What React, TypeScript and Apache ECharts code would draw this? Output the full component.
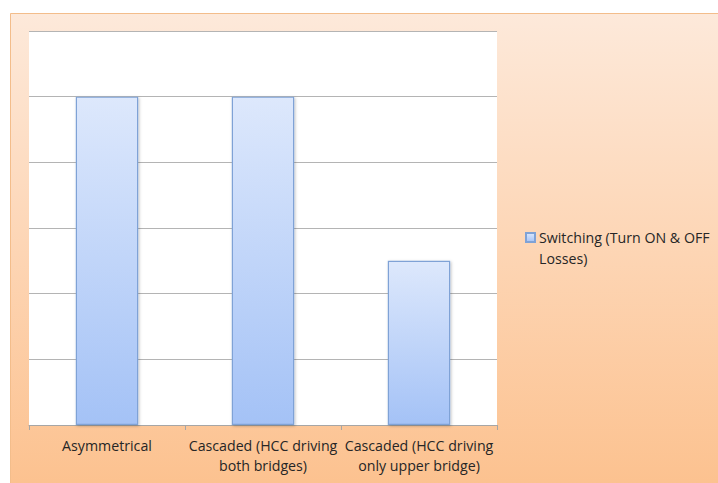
import React, { useEffect, useRef } from "react";
import * as echarts from "echarts";

const categories: string[] = [
  "Asymmetrical",
  "Cascaded (HCC driving\nboth bridges)",
  "Cascaded (HCC driving\nonly upper bridge)",
];
const seriesName = "Switching (Turn ON & OFF Losses)";
const switchingLosses: number[] = [5, 5, 2.5];
const yTicks = { min: 0, max: 6, interval: 1 };

const FONT = "'Open Sans', 'Noto Sans', sans-serif";

export default function App() {
  const ref = useRef<HTMLDivElement>(null);

  useEffect(() => {
    if (!ref.current) return;
    const chart = echarts.init(ref.current, undefined, { renderer: "svg" });

    const barFill = new echarts.graphic.LinearGradient(0, 0, 0, 1, [
      { offset: 0, color: "#dde8fc" },
      { offset: 1, color: "#a4c2f6" },
    ]);

    chart.setOption({
      animation: false,
      backgroundColor: "#ffffff",
      graphic: [
        {
          type: "rect",
          z: -10,
          silent: true,
          shape: { x: 10.5, y: 13.5, width: 720, height: 480 },
          style: {
            fill: new echarts.graphic.LinearGradient(0, 0, 0, 1, [
              { offset: 0, color: "#fde9da" },
              { offset: 0.5, color: "#fdd5b4" },
              { offset: 1, color: "#fcc18e" },
            ]),
            stroke: "#f3bd8b",
            lineWidth: 1,
          },
        },
      ],
      grid: {
        left: 29,
        top: 31,
        right: 221,
        bottom: 58,
        show: true,
        backgroundColor: "#ffffff",
        borderWidth: 0,
        containLabel: false,
      },
      legend: {
        show: true,
        orient: "vertical",
        left: 525,
        top: 206,
        padding: 0,
        icon: "rect",
        itemWidth: 9,
        itemHeight: 9,
        itemGap: 0,
        data: [seriesName],
        formatter: () => " \nSwitching (Turn ON & OFF\nLosses)",
        textStyle: {
          fontFamily: FONT,
          fontSize: 14.2,
          color: "#262626",
          lineHeight: 21,
          padding: [0, 0, 0, -1],
        },
      },
      xAxis: {
        type: "category",
        data: categories,
        axisLine: { show: true, lineStyle: { color: "#a6a6a6", width: 1 } },
        axisTick: { show: true, length: 5, lineStyle: { color: "#a6a6a6" } },
        axisLabel: {
          interval: 0,
          margin: 10,
          fontFamily: FONT,
          fontSize: 14.2,
          color: "#262626",
          lineHeight: 20,
        },
        splitLine: { show: false },
      },
      yAxis: {
        type: "value",
        min: yTicks.min,
        max: yTicks.max,
        interval: yTicks.interval,
        axisLine: { show: false },
        axisTick: { show: false },
        axisLabel: { show: false },
        splitLine: { show: true, lineStyle: { color: "#b4b4b4", width: 1 } },
      },
      series: [
        {
          name: seriesName,
          type: "bar",
          data: switchingLosses,
          barWidth: "40%",
          itemStyle: {
            color: barFill,
            borderColor: "#7fa2d6",
            borderWidth: 1.2,
            shadowBlur: 3,
            shadowColor: "rgba(0,0,0,0.25)",
            shadowOffsetX: 1,
            shadowOffsetY: 1,
          },
        },
      ],
    });

    return () => chart.dispose();
  }, []);

  return (
    <div
      ref={ref}
      style={{ position: "absolute", left: 0, top: 0, width: 718, height: 483 }}
    />
  );
}
